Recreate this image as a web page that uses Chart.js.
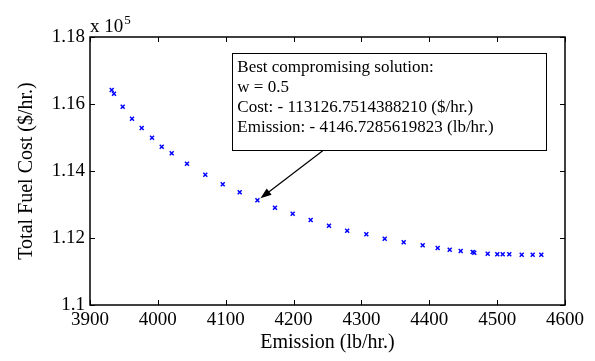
<!DOCTYPE html>
<html>
<head>
<meta charset="utf-8">
<script src="https://cdn.jsdelivr.net/npm/chart.js@4/dist/chart.umd.min.js"></script>
<style>
html, body { margin: 0; padding: 0; background: #fff; }
</style>
</head>
<body>
<canvas id="canvas" width="595" height="361"></canvas>
<script>
// pareto front: emission (lb/hr.) vs total fuel cost ($/hr.)
var emission = [3932.0, 3935.4, 3948.2, 3961.9, 3976.2, 3991.4, 4005.7, 4020.4,
    4042.9, 4069.9, 4095.6, 4120.6, 4146.7285619823, 4172.6, 4198.7, 4225.2,
    4252.2, 4279.0, 4307.2, 4334.3, 4362.3, 4390.3, 4412.4, 4430.1, 4446.3,
    4464.0, 4466.3, 4486.1, 4500.2, 4508.2, 4517.9, 4536.2, 4552.4, 4565.1];
var cost = [116418, 116307, 115919, 115561, 115284, 114994, 114725, 114528,
    114218, 113890, 113603, 113364, 113126.7514388210, 112904, 112725, 112537,
    112367, 112218, 112110, 111979, 111872, 111782, 111701, 111651, 111612,
    111582, 111561, 111531, 111513, 111513, 111513, 111501, 111501, 111501];
var bestIndex = 12;

var xTicks = [3900, 4000, 4100, 4200, 4300, 4400, 4500, 4600];
var yTicks = [110000, 112000, 114000, 116000, 118000];

var noteLines = [
    "Best compromising solution:",
    "w = 0.5",
    "Cost: - 113126.7514388210 ($/hr.)",
    "Emission: - 4146.7285619823 (lb/hr.)"
];

const serif = "'Liberation Serif', 'Times New Roman', serif";

// frame, inward ticks, exponent label and the callout box with arrow
const decorations = {
    id: "decorations",
    afterDraw(chart) {
        const ctx = chart.ctx;
        const a = chart.chartArea;
        const xs = chart.scales.x;
        const ys = chart.scales.y;
        ctx.save();
        ctx.strokeStyle = "#000";
        ctx.lineWidth = 1.5;
        ctx.strokeRect(a.left, a.top, a.right - a.left, a.bottom - a.top);
        ctx.lineWidth = 1;
        ctx.beginPath();
        xTicks.forEach(v => {
            const px = Math.round(xs.getPixelForValue(v)) + 0.5;
            ctx.moveTo(px, a.bottom); ctx.lineTo(px, a.bottom - 5);
            ctx.moveTo(px, a.top); ctx.lineTo(px, a.top + 5);
        });
        yTicks.forEach(v => {
            const py = Math.round(ys.getPixelForValue(v)) + 0.5;
            ctx.moveTo(a.left, py); ctx.lineTo(a.left + 5, py);
            ctx.moveTo(a.right, py); ctx.lineTo(a.right - 5, py);
        });
        ctx.stroke();

        // x 10^5
        ctx.fillStyle = "#000";
        ctx.textBaseline = "alphabetic";
        ctx.textAlign = "left";
        ctx.font = "19px " + serif;
        ctx.fillText("x 10", a.left, a.top - 5);
        const w = ctx.measureText("x 10").width;
        ctx.font = "13px " + serif;
        ctx.fillText("5", a.left + w + 1, a.top - 13);

        // callout box
        const bx0 = xs.getPixelForValue(4109), bx1 = xs.getPixelForValue(4572);
        const by0 = ys.getPixelForValue(117513), by1 = ys.getPixelForValue(114606);
        ctx.fillStyle = "#fff";
        ctx.fillRect(bx0, by0, bx1 - bx0, by1 - by0);
        ctx.strokeStyle = "#000";
        ctx.lineWidth = 1;
        ctx.strokeRect(Math.round(bx0) + 0.5, Math.round(by0) + 0.5, Math.round(bx1 - bx0), Math.round(by1 - by0));
        ctx.fillStyle = "#000";
        ctx.font = "17px " + serif;
        ctx.textBaseline = "middle";
        noteLines.forEach((t, i) => {
            ctx.fillText(t, bx0 + 5.5, by0 + 14.5 + i * 20);
        });

        // arrow to the best solution
        const tx = xs.getPixelForValue(4243), ty = by1;
        const hx = xs.getPixelForValue(emission[bestIndex]) + 3;
        const hy = ys.getPixelForValue(cost[bestIndex]) - 2;
        const ang = Math.atan2(hy - ty, hx - tx);
        ctx.lineWidth = 1.2;
        ctx.beginPath();
        ctx.moveTo(tx, ty);
        ctx.lineTo(hx - 8 * Math.cos(ang), hy - 8 * Math.sin(ang));
        ctx.stroke();
        ctx.beginPath();
        ctx.moveTo(hx, hy);
        ctx.lineTo(hx - 11 * Math.cos(ang) + 4 * Math.sin(ang), hy - 11 * Math.sin(ang) - 4 * Math.cos(ang));
        ctx.lineTo(hx - 11 * Math.cos(ang) - 4 * Math.sin(ang), hy - 11 * Math.sin(ang) + 4 * Math.cos(ang));
        ctx.closePath();
        ctx.fill();
        ctx.restore();
    }
};

const points = emission.map((e, i) => ({ x: e, y: cost[i] }));

const canvas = document.getElementById("canvas");
const chart = new Chart(canvas, {
    type: "scatter",
    data: {
        datasets: [{
            data: points,
            pointStyle: "crossRot",
            pointRadius: 2.8,
            pointBorderWidth: 1.5,
            borderColor: "#0000ff",
            backgroundColor: "#0000ff"
        }]
    },
    options: {
        responsive: false,
        animation: false,
        layout: { padding: { top: 37, right: 30, left: 0, bottom: 0 } },
        plugins: { legend: { display: false }, tooltip: { enabled: false } },
        scales: {
            x: {
                type: "linear",
                min: 3900, max: 4600,
                afterFit(s) { s.height = 56; },
                afterBuildTicks(s) { s.ticks = xTicks.map(v => ({ value: v })); },
                grid: { display: false, drawTicks: false },
                border: { display: false },
                ticks: {
                    color: "#000", padding: 4, maxRotation: 0, font: { family: serif, size: 19 },
                    callback: v => String(v)
                },
                title: {
                    display: true, text: "Emission (lb/hr.)", color: "#000",
                    padding: { top: 0, bottom: 6 }, font: { family: serif, size: 20 }
                }
            },
            y: {
                type: "linear",
                min: 110000, max: 118000,
                afterFit(s) { s.width = 90; },
                afterBuildTicks(s) { s.ticks = yTicks.map(v => ({ value: v })); },
                grid: { display: false, drawTicks: false },
                border: { display: false },
                ticks: {
                    color: "#000", padding: 5, font: { family: serif, size: 19 },
                    callback: v => String(parseFloat((v / 1e5).toFixed(2)))
                },
                title: {
                    display: true, text: "Total Fuel Cost ($/hr.)", color: "#000",
                    padding: { top: 15, bottom: 0 }, font: { family: serif, size: 20 }
                }
            }
        }
    },
    plugins: [decorations]
});
</script>
</body>
</html>
